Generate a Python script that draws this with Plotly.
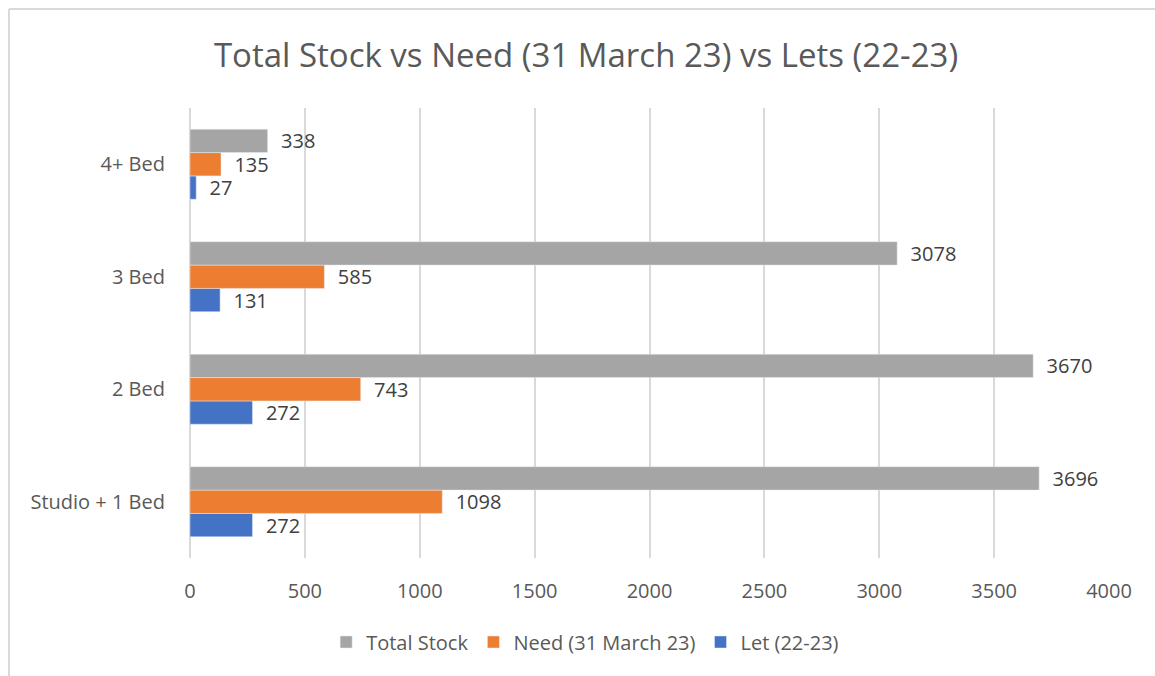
import plotly.graph_objects as go

categories = ['Studio + 1 Bed', '2 Bed', '3 Bed', '4+ Bed']
total_stock = [3696, 3670, 3078, 338]
need = [1098, 743, 585, 135]
lets = [272, 272, 131, 27]

FONT = 'Open Sans'
TEXT = '#595959'
LABEL = '#404040'
FRAME = '#D9D9D9'
PAD = '\u00a0\u00a0'  # push data labels away from the bar end like Excel

fig = go.Figure()

# horizontal groups stack bottom-up, so add in reverse of the legend order
fig.add_trace(go.Bar(
    y=categories, x=lets, orientation='h', name='Let (22-23)',
    marker=dict(color='#4472C4'),
    texttemplate=PAD + '%{x}', textposition='outside', cliponaxis=False,
    constraintext='none',
    textfont=dict(family=FONT, size=20, color=LABEL)
))
fig.add_trace(go.Bar(
    y=categories, x=need, orientation='h', name='Need (31 March 23)',
    marker=dict(color='#ED7D31'),
    texttemplate=PAD + '%{x}', textposition='outside', cliponaxis=False,
    constraintext='none',
    textfont=dict(family=FONT, size=20, color=LABEL)
))
fig.add_trace(go.Bar(
    y=categories, x=total_stock, orientation='h', name='Total Stock',
    marker=dict(color='#A5A5A5'),
    texttemplate=PAD + '%{x}', textposition='outside', cliponaxis=False,
    constraintext='none',
    textfont=dict(family=FONT, size=20, color=LABEL)
))

# outer chart frame, only top and left edges are in view
fig.add_shape(type='line', xref='paper', yref='paper',
              x0=-0.197, x1=1.3, y0=1.22, y1=1.22,
              line=dict(color=FRAME, width=2), layer='below')
fig.add_shape(type='line', xref='paper', yref='paper',
              x0=-0.197, x1=-0.197, y0=-0.5, y1=1.22,
              line=dict(color=FRAME, width=2), layer='below')

fig.update_layout(
    width=1155, height=676,
    title=dict(
        text='Total Stock vs Need (31 March 23) vs Lets (22-23)',
        x=0.5074, xanchor='center', y=0.9186, yanchor='middle',
        font=dict(family=FONT, size=33, color=TEXT)
    ),
    barmode='group', bargap=0.378, bargroupgap=0,
    plot_bgcolor='white', paper_bgcolor='white',
    margin=dict(l=190, r=46, t=108, b=118),
    font=dict(family=FONT, size=20, color=TEXT),
    xaxis=dict(
        range=[0, 4000], dtick=500, showgrid=True,
        gridcolor=FRAME, gridwidth=2, zeroline=True,
        zerolinecolor=FRAME, zerolinewidth=2,
        tickfont=dict(family=FONT, size=20, color=TEXT),
        ticks='', ticklabelstandoff=19
    ),
    yaxis=dict(
        showgrid=False, zeroline=False, showline=False,
        tickfont=dict(family=FONT, size=20, color=TEXT),
        ticks='outside', ticklen=20, tickcolor='rgba(0,0,0,0)'
    ),
    legend=dict(
        orientation='h', traceorder='reversed',
        x=0.43, xanchor='center',
        yref='container', y=0.0503, yanchor='middle',
        font=dict(family=FONT, size=20, color=TEXT)
    ),
    showlegend=True
)

# drop the page margin so the 1155x676 figure fills the window exactly
fig.write_html('out.html', config={'displayModeBar': False},
               post_script="document.body.style.margin='0';")
